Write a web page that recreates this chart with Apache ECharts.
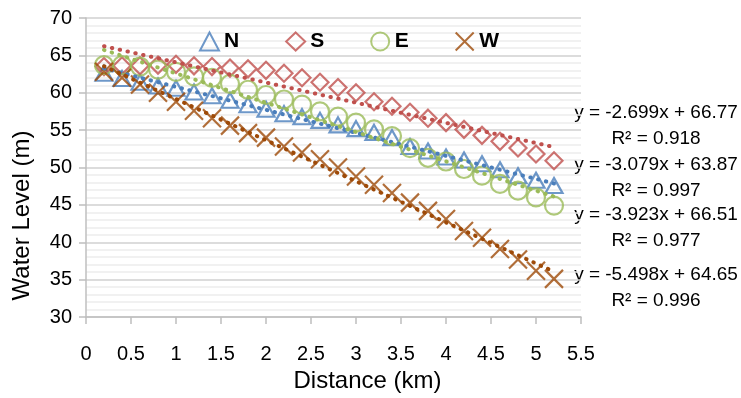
<!DOCTYPE html>
<html>
<head>
<meta charset="utf-8">
<title>Water Level vs Distance</title>
<script src="https://cdn.jsdelivr.net/npm/echarts@6/dist/echarts.min.js"></script>
<style>
  html, body { margin: 0; padding: 0; background: #fff; }
  #chart { width: 741px; height: 398px; }
</style>
</head>
<body>
<div id="chart"></div>
<script>
// distance along the section (km)
const distance = [0.2, 0.4, 0.6, 0.8, 1.0, 1.2, 1.4, 1.6, 1.8, 2.0, 2.2, 2.4, 2.6,
  2.8, 3.0, 3.2, 3.4, 3.6, 3.8, 4.0, 4.2, 4.4, 4.6, 4.8, 5.0, 5.2]

// water level (m)
const levelN = [62.6, 61.9, 61.4, 60.9, 60.6, 60.1, 59.6, 59.0, 58.4, 57.8, 57.2, 56.8, 56.3,
  55.7, 55.2, 54.7, 54.0, 52.8, 52.2, 51.4, 51.0, 50.5, 49.7, 48.9, 48.3, 47.6]
const levelS = [63.5, 63.6, 63.6, 63.7, 63.8, 63.6, 63.5, 63.3, 63.2, 63.0, 62.6, 62.0, 61.4,
  60.7, 60.0, 58.8, 58.2, 57.4, 56.6, 56.0, 55.1, 54.3, 53.5, 52.6, 51.8, 50.9]
const levelE = [63.7, 63.7, 63.5, 63.1, 62.8, 62.2, 62.0, 61.2, 60.4, 59.7, 59.1, 58.4, 57.5,
  56.8, 56.0, 55.1, 54.2, 52.6, 51.3, 50.8, 49.8, 48.9, 47.8, 46.9, 46.0, 44.9]
const levelW = [62.8, 62.0, 61.1, 60.0, 58.8, 57.6, 56.6, 55.6, 54.6, 54.0, 52.8, 52.0, 51.1,
  50.0, 48.8, 47.7, 46.6, 45.3, 44.2, 43.1, 41.5, 40.6, 39.1, 37.7, 36.2, 35.1]

// linear trendlines as printed on the chart (order S, N, E, W)
const trendNames = ['S', 'N', 'E', 'W']
const trendSlope = [-2.699, -3.079, -3.923, -5.498]
const trendIntercept = [66.77, 63.87, 66.51, 64.65]
const trendR2 = ['0.918', '0.997', '0.977', '0.996']
const labelCenterY = [126, 178, 228, 288] // px, centre of each two-line label

const colors = { N: '#4A7EBB', S: '#C0504D', E: '#9BBB59', W: '#9E4A08' }
const FONT = 'Liberation Sans'

const markers = [
  { name: 'N', data: levelN, symbol: 'triangle', size: [17, 15] },
  { name: 'S', data: levelS, symbol: 'diamond', size: [17, 17] },
  { name: 'E', data: levelE, symbol: 'circle', size: [18, 18] },
  { name: 'W', data: levelW, symbol: 'path://M0,0L16,16M16,0L0,16', size: [18, 18] },
]

const scatterSeries = markers.map((m) => ({
  name: m.name,
  type: 'scatter',
  symbol: m.symbol,
  symbolSize: m.size,
  itemStyle: {
    color: 'rgba(255,255,255,0)',
    borderColor: colors[m.name],
    borderWidth: 2.2,
  },
  z: 2,
  data: distance.map((x, i) => [x, m.data[i]]),
}))

const x0 = distance[0]
const x1 = distance[distance.length - 1]
const trendSeries = trendNames.map((n, i) => ({
  name: n + ' trend',
  type: 'line',
  symbol: 'none',
  silent: true,
  z: 3,
  lineStyle: { color: colors[n], width: 4, type: [0.5, 7.5], cap: 'round' },
  data: [
    [x0, trendSlope[i] * x0 + trendIntercept[i]],
    [x1, trendSlope[i] * x1 + trendIntercept[i]],
  ],
}))

const trendLabels = trendNames.map((n, i) => ({
  type: 'text',
  x: 656,
  y: labelCenterY[i],
  style: {
    text: 'y = ' + trendSlope[i].toFixed(3) + 'x + ' + trendIntercept[i].toFixed(2) +
      '\nR² = ' + trendR2[i],
    font: '19px "' + FONT + '"',
    fill: '#000',
    align: 'center',
    verticalAlign: 'middle',
    lineHeight: 26,
  },
}))

const chart = echarts.init(document.getElementById('chart'))
chart.setOption({
  animation: false,
  textStyle: { fontFamily: FONT },
  grid: { left: 86, right: 160, top: 18, bottom: 80 },
  legend: {
    data: ['N', 'S', 'E', 'W'],
    left: 194,
    top: 26,
    itemWidth: 19,
    itemHeight: 18,
    itemGap: 46,
    textStyle: { fontFamily: FONT, fontSize: 21, fontWeight: 'bold', color: '#000' },
  },
  xAxis: {
    type: 'value',
    min: 0,
    max: 5.5,
    interval: 0.5,
    name: 'Distance (km)',
    nameLocation: 'middle',
    nameGap: 52,
    nameTextStyle: { fontSize: 24, color: '#000', padding: [0, 0, 0, 68] },
    axisLine: { show: true, lineStyle: { color: '#bfbfbf', width: 1.5 } },
    axisTick: { show: true, length: 7, lineStyle: { color: '#bfbfbf', width: 1.5 } },
    axisLabel: { fontSize: 20, color: '#000', margin: 27 },
    splitLine: { show: false },
  },
  yAxis: {
    type: 'value',
    min: 30,
    max: 70,
    interval: 5,
    name: 'Water Level (m)',
    nameLocation: 'middle',
    nameGap: 52,
    nameTextStyle: { fontSize: 24, color: '#000', padding: [0, 96, 0, 0] },
    axisLine: { show: true, lineStyle: { color: '#bfbfbf', width: 1.5 } },
    axisTick: { show: true, length: 7, lineStyle: { color: '#bfbfbf', width: 1.5 } },
    axisLabel: { fontSize: 20, color: '#000', margin: 14 },
    splitLine: { show: true, lineStyle: { color: '#d0d0d0', width: 1.5 } },
    minorTick: { show: false, splitNumber: 5 },
    minorSplitLine: { show: true, lineStyle: { color: '#ededed', width: 1.5 } },
  },
  graphic: trendLabels,
  series: [...scatterSeries, ...trendSeries],
})
</script>
</body>
</html>
